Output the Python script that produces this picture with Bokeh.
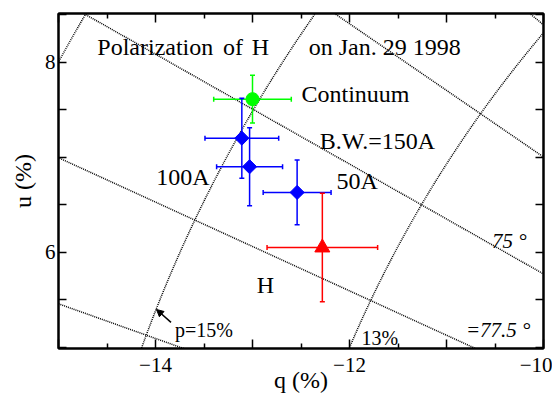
import numpy as np
from bokeh.plotting import figure
from bokeh.models import (Range1d, LinearAxis, FixedTicker, ColumnDataSource,
                          Arrow, NormalHead)
from bokeh.core.properties import value
from bokeh.embed import file_html
from bokeh.resources import INLINE

# ---- data ----
names = ["Continuum", "B.W.=150A", "100A", "50A", "H"]
q = [-13.00, -13.11, -13.03, -12.54, -12.28]
u = [7.61, 7.20, 6.90, 6.63, 6.05]
q_err = [0.40, 0.38, 0.34, 0.35, 0.57]
u_err = [0.25, 0.42, 0.41, 0.34, 0.57]
colors = ["#00ff00", "#0000ff", "#0000ff", "#0000ff", "#ff0000"]

# constant-p circles and constant-angle lines (percent, degrees)
p_levels = [13, 15, 17]
theta_levels = [70, 72.5, 75, 77.5, 80]

# annotation texts
big_text = ["Polarization", "of", "H", "on Jan. 29 1998", "Continuum", "B.W.=150A", "100A", "50A", "H"]
big_q = [-14.60, -13.304, -13.009, -12.42, -12.495, -12.307, -13.993, -12.133, -12.955]
big_u = [8.159, 8.159, 8.159, 8.159, 7.665, 7.171, 6.788, 6.746, 5.658]
small_text = ["p=15%", "13%"]
small_q = [-13.80, -11.876]
small_u = [5.18, 5.10]
ital_text = ["75 \u00b0", "=77.5 \u00b0"]
ital_q = [-10.53, -10.80]
ital_u = [6.124, 5.18]

x_major = [-15, -14, -13, -12, -11, -10]
x_minor = [-14.5, -13.5, -12.5, -11.5, -10.5]
x_labels = {-15: "", -14: "\u221214", -13: "", -12: "\u221212", -11: "", -10: "\u221210"}
y_major = [5.0, 5.5, 6.0, 6.5, 7.0, 7.5, 8.0, 8.5]
y_labels = {5.0: "", 5.5: "", 6.0: "6", 6.5: "", 7.0: "", 7.5: "", 8.0: "8", 8.5: ""}

FONT = value("Liberation Serif")

p = figure(width=552, height=395, x_range=Range1d(-15, -10), y_range=Range1d(4.99, 8.51),
           output_backend="svg", toolbar_location=None,
           min_border_left=58, min_border_right=9, min_border_top=13, min_border_bottom=42)
p.grid.visible = False
p.background_fill_color = "white"
p.border_fill_color = "white"
p.outline_line_color = "black"
p.outline_line_width = 2

# dotted guide curves
xs, ys = [], []
t = np.linspace(np.pi / 2, np.pi, 400)
for pl in p_levels:
    xs.append(list(pl * np.cos(t)))
    ys.append(list(pl * np.sin(t)))
r = np.linspace(0, 25, 50)
for th in theta_levels:
    a = np.deg2rad(2 * th)
    xs.append(list(r * np.cos(a)))
    ys.append(list(r * np.sin(a)))
p.multi_line(xs, ys, line_color="black", line_dash="1 1", line_width=1.5)

# error bars
src = ColumnDataSource(dict(q=q, u=u,
                            q_lo=[a - b for a, b in zip(q, q_err)],
                            q_hi=[a + b for a, b in zip(q, q_err)],
                            u_lo=[a - b for a, b in zip(u, u_err)],
                            u_hi=[a + b for a, b in zip(u, u_err)],
                            color=colors))
p.segment(x0="q_lo", y0="u", x1="q_hi", y1="u", source=src, line_color="color", line_width=1.5)
p.segment(x0="q", y0="u_lo", x1="q", y1="u_hi", source=src, line_color="color", line_width=1.5)
p.scatter(x="q_lo", y="u", source=src, marker="dash", angle=np.pi / 2, size=5, line_color="color", line_width=1.5)
p.scatter(x="q_hi", y="u", source=src, marker="dash", angle=np.pi / 2, size=5, line_color="color", line_width=1.5)
p.scatter(x="q", y="u_lo", source=src, marker="dash", size=5, line_color="color", line_width=1.5)
p.scatter(x="q", y="u_hi", source=src, marker="dash", size=5, line_color="color", line_width=1.5)

# markers
p.scatter(x=q[0:1], y=u[0:1], marker="circle", size=13, fill_color=colors[0], line_color=colors[0])
p.scatter(x=q[1:4], y=u[1:4], marker="square", angle=np.pi / 4, size=10,
          fill_color=colors[1], line_color=colors[1])
p.scatter(x=q[4:5], y=u[4:5], marker="triangle", size=15, fill_color=colors[4], line_color=colors[4])

# texts
p.text(big_q, big_u, text=big_text, text_font=FONT, text_font_size="24px",
       text_color="black", text_baseline="alphabetic", text_align="left")
p.text(small_q, small_u, text=small_text, text_font=FONT, text_font_size="20px",
       text_color="black", text_baseline="alphabetic", text_align="left")
p.text(ital_q, ital_u, text=ital_text, text_font=FONT, text_font_size="21px", text_font_style="italic",
       text_color="black", text_baseline="alphabetic", text_align="left")

p.add_layout(Arrow(end=NormalHead(size=7, fill_color="black", line_color="black"),
                   x_start=-13.84, y_start=5.265, x_end=-13.99, y_end=5.40,
                   line_color="black", line_width=1.5))

# axes
def style_axis(ax, ticks, minor, labels, show):
    ax.ticker = FixedTicker(ticks=ticks, minor_ticks=minor)
    ax.axis_line_color = "black"
    ax.axis_line_width = 2
    ax.major_tick_in = 9
    ax.major_tick_out = 0
    ax.minor_tick_in = 5
    ax.minor_tick_out = 0
    ax.major_tick_line_width = 1.5
    ax.minor_tick_line_width = 1.5
    ax.major_label_overrides = labels
    ax.major_label_text_font = "Liberation Serif"
    ax.major_label_text_font_size = "21px" if show else "0px"
    ax.major_label_text_color = "black"

style_axis(p.xaxis[0], x_major, x_minor, x_labels, True)
style_axis(p.yaxis[0], y_major, [], y_labels, True)
p.yaxis[0].major_label_standoff = 3
p.yaxis[0].major_tick_in = 8
p.xaxis[0].major_label_standoff = 9

for ax, lab in ((p.xaxis[0], "q (%)"), (p.yaxis[0], "u (%)")):
    ax.axis_label = lab
    ax.axis_label_text_font = "Liberation Serif"
    ax.axis_label_text_font_size = "24px"
    ax.axis_label_text_font_style = "normal"
    ax.axis_label_text_color = "black"
p.xaxis[0].axis_label_standoff = -8
p.yaxis[0].axis_label_standoff = 6

top = LinearAxis()
right = LinearAxis()
style_axis(top, x_major, x_minor, {k: "" for k in x_major}, False)
style_axis(right, y_major, [], {k: "" for k in y_major}, False)
right.major_tick_in = 8
p.add_layout(top, "above")
p.add_layout(right, "right")

open("out.html", "w").write(file_html(p, INLINE))
